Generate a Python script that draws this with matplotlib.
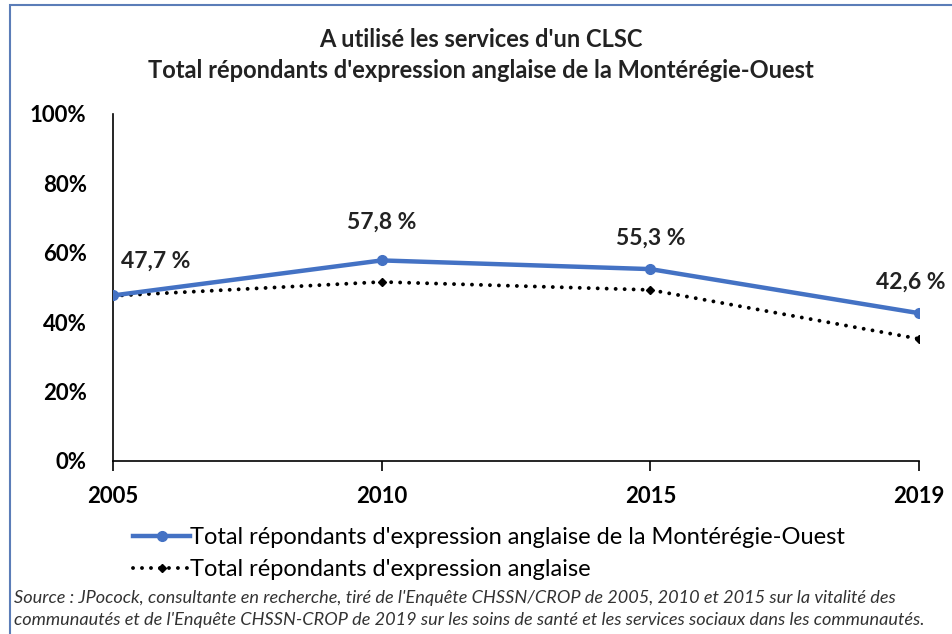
import matplotlib
matplotlib.use('Agg')
import matplotlib.pyplot as plt
from matplotlib.lines import Line2D
from matplotlib.patches import Rectangle

# Données
annees = ['2005', '2010', '2015', '2019']
monteregie_ouest = [47.7, 57.8, 55.3, 42.6]
total_anglais = [47.6, 51.6, 49.3, 35.2]
etiquettes = ['47,7 %', '57,8 %', '55,3 %', '42,6 %']
y_ticks = [0, 20, 40, 60, 80, 100]

plt.rcParams['font.family'] = ['Lato', 'DejaVu Sans']

bleu = '#4472C4'
pointille = (0, (0.01, 2.3))
fig = plt.figure(figsize=(9.53, 6.34), dpi=100)
ax = fig.add_axes([0.1186, 0.2729, 0.8457, 0.5473])

x = list(range(len(annees)))
ax.plot(x, monteregie_ouest, color=bleu, lw=3.2, marker='o', ms=7,
        solid_capstyle='round', zorder=3)
ax.plot(x, total_anglais, color='black', lw=2.8, ls=pointille,
        dash_capstyle='round', marker='D', ms=4.5, zorder=2)

# étiquettes de données
decal = [(0.16, 10), (0, 11), (0, 9), (-0.03, 9)]
for i, (v, t) in enumerate(zip(monteregie_ouest, etiquettes)):
    ax.text(x[i] + decal[i][0], v + decal[i][1], t, ha='center', va='center',
            fontsize=16.5, fontweight='bold', color='#222222')

ax.set_xlim(0, 3)
ax.set_ylim(0, 100)
ax.set_xticks(x)
ax.set_xticklabels(annees, fontsize=16, fontweight='bold')
ax.set_yticks(y_ticks)
ax.set_yticklabels([f'{v}%' for v in y_ticks], fontsize=16, fontweight='bold')
ax.tick_params(axis='y', length=0, pad=19)
ax.tick_params(axis='x', length=7, width=1.2, pad=11, direction='out')
for s in ['top', 'right']:
    ax.spines[s].set_visible(False)
for s in ['left', 'bottom']:
    ax.spines[s].set_linewidth(1.2)
ax.spines['left'].set_bounds(0, 100)

fig.text(0.505, 0.938, "A utilisé les services d'un CLSC", ha='center', va='center',
         fontsize=17, fontweight='bold', color='#222222')
fig.text(0.505, 0.889, "Total répondants d'expression anglaise de la Montérégie-Ouest",
         ha='center', va='center', fontsize=17, fontweight='bold', color='#222222')

# légende
handles = [
    Line2D([], [], color=bleu, lw=3.2, marker='o', ms=7),
    Line2D([], [], color='black', lw=2.8, ls=pointille, dash_capstyle='round',
           marker='D', ms=4.5),
]
labels = ["Total répondants d'expression anglaise de la Montérégie-Ouest",
          "Total répondants d'expression anglaise"]
fig.legend(handles, labels, loc='upper left', bbox_to_anchor=(0.13, 0.184),
           frameon=False, fontsize=17, handlelength=2.4, handletextpad=0.0,
           labelspacing=0.48, borderaxespad=0)

fig.text(0.015, 0.057,
         "Source : JPocock, consultante en recherche, tiré de l'Enquête CHSSN/CROP de 2005, 2010 et 2015 sur la vitalité des",
         fontsize=13.1, style='italic', color='#333333', va='center')
fig.text(0.015, 0.022,
         "communautés et de l'Enquête CHSSN-CROP de 2019 sur les soins de santé et les services sociaux dans les communautés.",
         fontsize=13.1, style='italic', color='#333333', va='center')

# cadre extérieur
fig.patches.append(Rectangle((0.011, -0.1), 1.1, 1.092, transform=fig.transFigure,
                             fill=False, edgecolor='#5B7DB8', lw=1.5))

fig.savefig('out.png', dpi=100)
